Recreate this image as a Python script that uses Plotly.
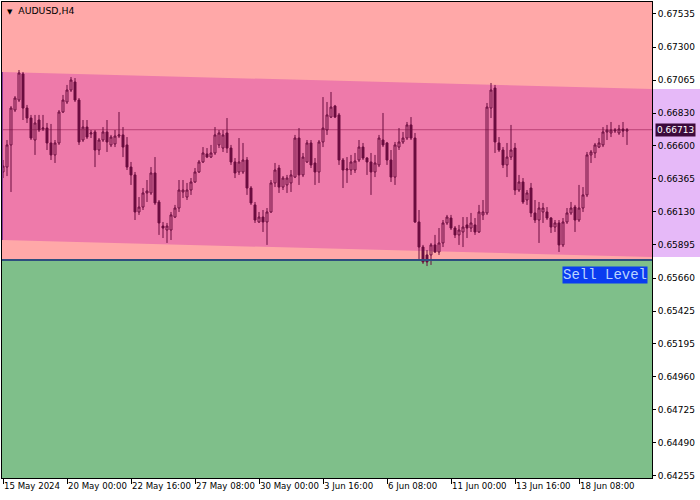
import plotly.graph_objects as go

# ---- data (AUDUSD H4, bar index 0..156) ----
open_ = [0.66413,0.66448,0.66605,0.66853,0.66924,0.67109,0.66867,0.66796,0.66640,0.66782,
         0.66718,0.66725,0.66619,0.66534,0.66619,0.66839,0.66910,0.66995,0.67052,0.66924,
         0.66640,0.66732,0.66683,0.66697,0.66569,0.66640,0.66697,0.66605,0.66612,0.66668,
         0.66676,0.66605,0.66448,0.66392,0.66129,0.66164,0.66264,0.66264,0.66406,0.66200,
         0.66029,0.66001,0.66001,0.66093,0.66157,0.66271,0.66235,0.66285,0.66342,0.66413,
         0.66484,0.66541,0.66519,0.66548,0.66605,0.66583,0.66690,0.66583,0.66484,0.66413,
         0.66413,0.66498,0.66299,0.66179,0.66058,0.66093,0.66058,0.66129,0.66335,0.66441,
         0.66306,0.66321,0.66335,0.66377,0.66654,0.66392,0.66484,0.66619,0.66477,0.66413,
         0.66626,0.66711,0.66803,0.66881,0.66818,0.66498,0.66427,0.66427,0.66427,0.66498,
         0.66590,0.66512,0.66484,0.66413,0.66463,0.66640,0.66619,0.66498,0.66377,0.66590,
         0.66626,0.66654,0.66747,0.66654,0.66058,0.65880,0.65824,0.65824,0.65895,0.65845,
         0.65909,0.66051,0.66086,0.66015,0.65966,0.65987,0.66037,0.66015,0.66037,0.65987,
         0.66108,0.66122,0.66867,0.67009,0.66619,0.66569,0.66463,0.66519,0.66583,0.66285,
         0.66342,0.66214,0.66299,0.66122,0.66072,0.66129,0.66129,0.66086,0.66022,0.66051,
         0.65895,0.66058,0.66122,0.66164,0.66072,0.66157,0.66250,0.66534,0.66548,0.66590,
         0.66605,0.66697,0.66690,0.66704,0.66690,0.66718,0.66704]
high = [0.66498,0.66640,0.66881,0.66952,0.67137,0.67123,0.66889,0.66818,0.66818,0.66818,
        0.66818,0.66761,0.66754,0.66640,0.66853,0.66960,0.67031,0.67087,0.67080,0.66938,
        0.66782,0.66782,0.66711,0.66711,0.66654,0.66732,0.66782,0.66676,0.66711,0.66839,
        0.66732,0.66661,0.66484,0.66413,0.66235,0.66299,0.66356,0.66448,0.66519,0.66214,
        0.66058,0.66051,0.66129,0.66179,0.66356,0.66356,0.66335,0.66370,0.66441,0.66498,
        0.66590,0.66583,0.66605,0.66732,0.66711,0.66711,0.66796,0.66605,0.66512,0.66654,
        0.66619,0.66519,0.66313,0.66200,0.66129,0.66143,0.66157,0.66356,0.66477,0.66463,
        0.66384,0.66392,0.66427,0.66676,0.66725,0.66548,0.66640,0.66640,0.66512,0.66640,
        0.66945,0.66910,0.66981,0.66889,0.66832,0.66512,0.66519,0.66534,0.66548,0.66640,
        0.66619,0.66519,0.66548,0.66534,0.66676,0.66832,0.66626,0.66569,0.66626,0.66725,
        0.66697,0.66768,0.66803,0.66690,0.66143,0.65895,0.65859,0.65909,0.65966,0.66015,
        0.66072,0.66108,0.66108,0.66029,0.66037,0.66093,0.66093,0.66122,0.66086,0.66179,
        0.66214,0.66903,0.67045,0.67031,0.66661,0.66590,0.66619,0.66747,0.66619,0.66392,
        0.66370,0.66285,0.66335,0.66214,0.66200,0.66193,0.66164,0.66093,0.66072,0.66072,
        0.66086,0.66157,0.66200,0.66179,0.66321,0.66306,0.66555,0.66569,0.66619,0.66654,
        0.66732,0.66747,0.66768,0.66725,0.66747,0.66768,0.66725]
low = [0.66370,0.66384,0.66271,0.66839,0.66910,0.66782,0.66761,0.66640,0.66534,0.66697,
       0.66704,0.66569,0.66498,0.66477,0.66605,0.66832,0.66896,0.66981,0.66910,0.66605,
       0.66626,0.66647,0.66654,0.66448,0.66534,0.66626,0.66555,0.66590,0.66590,0.66654,
       0.66519,0.66427,0.66321,0.66072,0.66108,0.66143,0.66200,0.66250,0.66179,0.65966,
       0.65944,0.65909,0.65930,0.66086,0.66129,0.66228,0.66214,0.66250,0.66335,0.66406,
       0.66477,0.66512,0.66512,0.66534,0.66583,0.66555,0.66548,0.66463,0.66370,0.66392,
       0.66399,0.66250,0.66179,0.66051,0.66051,0.65987,0.65895,0.66122,0.66306,0.66264,
       0.66285,0.66264,0.66271,0.66370,0.66321,0.66377,0.66477,0.66441,0.66321,0.66335,
       0.66590,0.66676,0.66796,0.66796,0.66463,0.66299,0.66335,0.66392,0.66406,0.66484,
       0.66498,0.66392,0.66250,0.66377,0.66448,0.66590,0.66463,0.66342,0.66321,0.66569,
       0.66612,0.66640,0.66640,0.66051,0.65788,0.65760,0.65745,0.65753,0.65838,0.65824,
       0.65880,0.66037,0.66001,0.65944,0.65895,0.65880,0.65944,0.65987,0.65966,0.65980,
       0.66072,0.66108,0.66796,0.66548,0.66555,0.66441,0.66377,0.66498,0.66250,0.66271,
       0.66186,0.66179,0.66093,0.66051,0.65909,0.66051,0.66072,0.65980,0.65987,0.65845,
       0.65880,0.66044,0.66108,0.65987,0.66058,0.66129,0.66235,0.66477,0.66512,0.66583,
       0.66590,0.66640,0.66661,0.66690,0.66676,0.66661,0.66605]
close = [0.66455,0.66605,0.66867,0.66938,0.67116,0.66867,0.66796,0.66654,0.66761,0.66711,
         0.66725,0.66619,0.66534,0.66619,0.66839,0.66924,0.66995,0.67066,0.66924,0.66626,
         0.66732,0.66661,0.66690,0.66569,0.66640,0.66697,0.66626,0.66661,0.66668,0.66676,
         0.66590,0.66448,0.66392,0.66129,0.66164,0.66264,0.66278,0.66406,0.66193,0.66051,
         0.66015,0.66029,0.66108,0.66157,0.66285,0.66285,0.66285,0.66342,0.66413,0.66484,
         0.66548,0.66519,0.66548,0.66676,0.66690,0.66676,0.66583,0.66484,0.66406,0.66484,
         0.66498,0.66299,0.66193,0.66072,0.66093,0.66058,0.66129,0.66335,0.66427,0.66306,
         0.66370,0.66370,0.66392,0.66654,0.66392,0.66519,0.66619,0.66463,0.66413,0.66626,
         0.66725,0.66818,0.66874,0.66803,0.66498,0.66427,0.66434,0.66484,0.66491,0.66590,
         0.66512,0.66484,0.66413,0.66477,0.66654,0.66605,0.66498,0.66377,0.66605,0.66626,
         0.66654,0.66747,0.66654,0.66058,0.65880,0.65774,0.65774,0.65895,0.65845,0.65909,
         0.66051,0.66093,0.66015,0.65966,0.66001,0.66022,0.66015,0.66051,0.65987,0.66129,
         0.66129,0.66874,0.66995,0.66626,0.66569,0.66463,0.66519,0.66569,0.66285,0.66342,
         0.66200,0.66264,0.66122,0.66072,0.66157,0.66157,0.66086,0.66022,0.66051,0.65895,
         0.66058,0.66122,0.66157,0.66072,0.66157,0.66250,0.66534,0.66555,0.66605,0.66619,
         0.66697,0.66711,0.66711,0.66711,0.66718,0.66704,0.66713]

x_labels = ["15 May 2024", "20 May 00:00", "22 May 16:00", "27 May 08:00", "30 May 00:00",
            "3 Jun 16:00", "6 Jun 08:00", "11 Jun 00:00", "13 Jun 16:00", "18 Jun 08:00"]
x_label_idx = [0, 16, 32, 48, 64, 80, 96, 112, 128, 144]
y_ticks = [0.67535, 0.67300, 0.67065, 0.66830, 0.66600, 0.66365, 0.66130, 0.65895,
           0.65660, 0.65425, 0.65195, 0.64960, 0.64725, 0.64490, 0.64255]

channel_x = [-0.25, 162.25]
channel_top = [0.67123, 0.67002]
channel_bottom = [0.65930, 0.65809]
sell_level = 0.65788
current_price = 0.66713

x_range = [-0.25, 162.25]
y_range = [0.64240, 0.67620]

CANDLE = "#6B0D3F"
SALMON = "#FFA8A8"
CHANNEL = "#EE7AAA"
GREEN = "#7FBF8A"
LAVENDER = "#E6B9F8"
FONT = "DejaVu Sans"

idx = list(range(len(close)))

fig = go.Figure()
fig.add_trace(go.Candlestick(
    x=idx, open=open_, high=high, low=low, close=close,
    increasing=dict(line=dict(color=CANDLE, width=1), fillcolor="rgba(0,0,0,0)"),
    decreasing=dict(line=dict(color=CANDLE, width=1), fillcolor=CANDLE),
    whiskerwidth=0, hoverinfo="skip", showlegend=False,
))

shapes = []
shapes.append(dict(type="rect", xref="x", yref="y", x0=x_range[0], x1=x_range[1],
                   y0=y_range[0], y1=sell_level, fillcolor=GREEN, line=dict(width=0), layer="below"))
path = (f"M {channel_x[0]},{channel_top[0]} L {channel_x[1]},{channel_top[1]} "
        f"L {channel_x[1]},{channel_bottom[1]} L {channel_x[0]},{channel_bottom[0]} Z")
shapes.append(dict(type="path", xref="x", yref="y", path=path, fillcolor=CHANNEL,
                   line=dict(width=0), layer="below"))
shapes.append(dict(type="rect", xref="paper", yref="y", x0=1.0, x1=1.1,
                   y0=channel_bottom[1], y1=channel_top[1], fillcolor=LAVENDER,
                   line=dict(width=0), layer="below"))
shapes.append(dict(type="line", xref="x", yref="y", x0=x_range[0], x1=x_range[1],
                   y0=current_price, y1=current_price, line=dict(color="rgba(170,50,100,0.75)", width=1),
                   layer="below"))
shapes.append(dict(type="line", xref="x", yref="y", x0=x_range[0], x1=x_range[1],
                   y0=sell_level, y1=sell_level, line=dict(color="#2E4E7E", width=2), layer="above"))
shapes.append(dict(type="line", xref="x", yref="y", x0=x_range[0], x1=x_range[0],
                   y0=channel_bottom[0], y1=channel_top[0], line=dict(color="#8A3A9A", width=2),
                   layer="above"))

annotations = [
    dict(xref="paper", yref="paper", x=0.004, y=0.997, xanchor="left", yanchor="top",
         text="<span style='font-size:7px'>▼</span>  AUDUSD,H4", showarrow=False,
         font=dict(family=FONT, size=9.3, color="#000000")),
    dict(xref="paper", yref="y", x=1.004, y=current_price, xanchor="left", yanchor="middle",
         text=f"{current_price:.5f}", showarrow=False, bgcolor="#3C0A3C",
         font=dict(family=FONT, size=9, color="#FFFFFF"), borderpad=1),
    dict(xref="x", yref="y", x=161.2, y=0.65681, xanchor="right", yanchor="middle",
         text="Sell Level", showarrow=False, bgcolor="#0A3CF0",
         font=dict(family="Liberation Mono", size=14, color="#BBD4FF"), borderpad=0),
]

fig.update_layout(
    width=700, height=500,
    margin=dict(l=2, r=48, t=2, b=22),
    paper_bgcolor="#FFFFFF", plot_bgcolor=SALMON,
    shapes=shapes, annotations=annotations,
    font=dict(family=FONT, size=9, color="#000000"),
    showlegend=False,
    xaxis=dict(range=x_range, tickmode="array", tickvals=x_label_idx, ticktext=x_labels,
               tickangle=0, automargin=False,
               ticks="outside", ticklen=5, tickcolor="#000000", showgrid=False, zeroline=False,
               showline=True, linecolor="#000000", linewidth=1, mirror=True,
               ticklabelposition="outside right", rangeslider=dict(visible=False),
               tickfont=dict(family=FONT, size=8.6, color="#000000"), fixedrange=True),
    yaxis=dict(range=y_range, side="right", tickmode="array", tickvals=y_ticks,
               ticktext=[f"{v:.5f}" for v in y_ticks], ticks="outside", ticklen=3,
               automargin=False,
               tickcolor="#000000", showgrid=False, zeroline=False, showline=True,
               linecolor="#000000", linewidth=1, mirror=True,
               tickfont=dict(family=FONT, size=9, color="#000000"), fixedrange=True),
)

fig.write_html("out.html", post_script="document.body.style.margin='0';",
               config={"displayModeBar": False})
